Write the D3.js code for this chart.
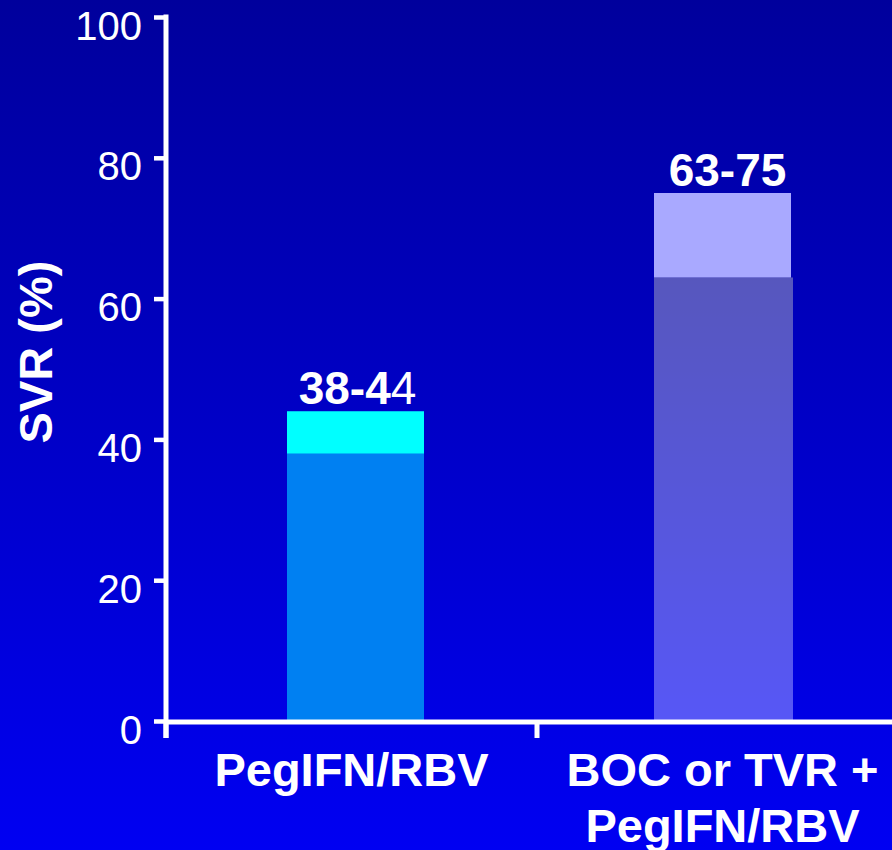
<!DOCTYPE html>
<html>
<head>
<meta charset="utf-8">
<script src="https://cdn.jsdelivr.net/npm/d3@7"></script>
<style>
  html, body { margin: 0; padding: 0; background: #0000c8; }
  svg { display: block; font-family: "Liberation Sans", Arial, sans-serif; }
</style>
</head>
<body>
<svg id="chart" width="892" height="850"></svg>
<script>
// SVR rates by regimen: lower and upper end of each reported range
const categories = ["PegIFN/RBV", "BOC or TVR +\nPegIFN/RBV"];
const lowerValues = [38, 63];
const upperValues = [44, 75];
const rangeLabels = [["38-4", "4"], ["63-75", ""]];
const yTicks = [0, 20, 40, 60, 80, 100];

const lowerColors = ["#0080f2", "rgba(255,255,255,0.34)"];
const upperColors = ["#00ffff", "#a9a9ff"];

const svg = d3.select("#chart");
const W = 892, H = 850;

// background gradient
const defs = svg.append("defs");
const grad = defs.append("linearGradient").attr("id", "bg")
  .attr("x1", 0).attr("y1", 0).attr("x2", 0).attr("y2", 1);
grad.append("stop").attr("offset", "0%").attr("stop-color", "#00009c");
grad.append("stop").attr("offset", "100%").attr("stop-color", "#0000f2");
svg.append("rect").attr("width", W).attr("height", H).attr("fill", "url(#bg)");

const x0 = 166, xEnd = 908;
const x = d3.scaleBand().domain(categories).range([x0, xEnd]).padding(0);
const y = d3.scaleLinear().domain([0, 100]).range([721, 17]);
const barW = 137;

const data = categories.map((c, i) => ({
  cat: c, lo: lowerValues[i], hi: upperValues[i], label: rangeLabels[i], i
}));
const barX = d => x(d.cat) + x.bandwidth() / 2 - barW / 2 + (d.i === 0 ? 4 : 0);

// upper end of each range
const bars = svg.append("g");
bars.selectAll(".upper").data(data).enter().append("rect")
  .attr("class", "upper")
  .attr("x", barX)
  .attr("width", barW)
  .attr("y", d => y(d.hi))
  .attr("height", d => y(0) - y(d.hi))
  .attr("fill", d => upperColors[d.i]);

// lower end: the second bar is a translucent tint over the background,
// so the background is repainted under it first
bars.selectAll(".under").data(data.filter(d => d.i === 1)).enter().append("rect")
  .attr("class", "under")
  .attr("x", barX)
  .attr("width", barW + 2)
  .attr("y", d => y(d.lo))
  .attr("height", d => y(0) - y(d.lo))
  .attr("fill", "url(#bg)");
bars.selectAll(".lower").data(data).enter().append("rect")
  .attr("class", "lower")
  .attr("x", barX)
  .attr("width", d => barW + (d.i === 1 ? 2 : 0))
  .attr("y", d => y(d.lo))
  .attr("height", d => y(0) - y(d.lo))
  .attr("fill", d => lowerColors[d.i]);

// range labels above bars
const lbl = svg.append("g").selectAll("text").data(data).enter().append("text")
  .attr("x", d => x(d.cat) + x.bandwidth() / 2 + (d.i === 0 ? 6 : 5))
  .attr("y", d => y(d.hi) - 7)
  .attr("text-anchor", "middle")
  .attr("fill", "#fff")
  .attr("font-size", 46)
  .attr("font-weight", "bold");
lbl.append("tspan").text(d => d.label[0]);
lbl.append("tspan").attr("font-weight", "normal").text(d => d.label[1]);

// y axis
const yAxis = d3.axisLeft(y).tickValues(yTicks).tickSize(12).tickPadding(12);
const gy = svg.append("g").attr("transform", `translate(${x0},0)`).call(yAxis);
gy.select(".domain").remove();
gy.selectAll(".tick line").attr("stroke", "#fff").attr("stroke-width", 4.5);
gy.selectAll(".tick text")
  .attr("fill", "#fff")
  .attr("font-size", 40)
  .attr("font-family", "Liberation Sans, Arial, sans-serif")
  .attr("dy", "0.55em");
svg.append("line")
  .attr("x1", x0).attr("x2", x0)
  .attr("y1", y(100) - 2.5).attr("y2", 738)
  .attr("stroke", "#fff").attr("stroke-width", 5);

// x axis
svg.append("line")
  .attr("x1", x0).attr("x2", W)
  .attr("y1", y(0) + 1).attr("y2", y(0) + 1)
  .attr("stroke", "#fff").attr("stroke-width", 5);
svg.append("g").selectAll("line").data(categories).enter().append("line")
  .attr("x1", d => x(d)).attr("x2", d => x(d))
  .attr("y1", y(0)).attr("y2", 738)
  .attr("stroke", "#fff").attr("stroke-width", 5);

// category labels
const cl = svg.append("g").selectAll("text").data(categories).enter().append("text")
  .attr("x", d => x(d) + x.bandwidth() / 2)
  .attr("y", 786)
  .attr("text-anchor", "middle")
  .attr("fill", "#fff")
  .attr("font-size", 47)
  .attr("font-weight", "bold");
cl.selectAll("tspan").data(d => d.split("\n")).enter().append("tspan")
  .attr("x", function () { return d3.select(this.parentNode).attr("x"); })
  .attr("dy", (d, i) => (i === 0 ? 0 : 56))
  .text(d => d);

// y axis title
svg.append("text")
  .attr("transform", "translate(52,352) rotate(-90)")
  .attr("text-anchor", "middle")
  .attr("fill", "#fff")
  .attr("font-size", 47)
  .attr("font-weight", "bold")
  .text("SVR (%)");
</script>
</body>
</html>
